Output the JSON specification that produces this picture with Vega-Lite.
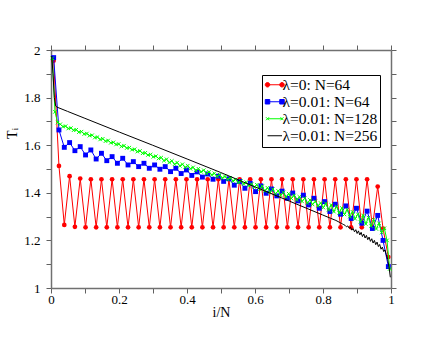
{
"$schema": "https://vega.github.io/schema/vega-lite/v6.json",
"width": 340, "height": 238,
"autosize": "none",
"padding": {"left": 51, "top": 50, "right": 49, "bottom": 52},
"background": "white",
"config": {"view": {"stroke": null}, "font": "Liberation Serif",
  "axis": {"domainColor": "#707070", "domainWidth": 1.5, "tickColor": "#606060", "tickWidth": 1, "ticks": true, "labelFont": "Liberation Serif", "labelFontSize": 13, "labelColor": "#000", "titleFont": "Liberation Serif", "titleFontSize": 14, "titleFontWeight": "normal", "titleColor": "#000", "grid": false, "labelFlush": false, "labelOverlap": false}},
"datasets": {
"red": [{"x":0.0078,"y":1.955},{"x":0.0234,"y":1.513},{"x":0.0391,"y":1.265},{"x":0.0547,"y":1.47},{"x":0.0703,"y":1.257},{"x":0.0859,"y":1.46},{"x":0.1016,"y":1.255},{"x":0.1172,"y":1.457},{"x":0.1328,"y":1.255},{"x":0.1484,"y":1.457},{"x":0.1641,"y":1.255},{"x":0.1797,"y":1.457},{"x":0.1953,"y":1.255},{"x":0.2109,"y":1.457},{"x":0.2266,"y":1.255},{"x":0.2422,"y":1.457},{"x":0.2578,"y":1.255},{"x":0.2734,"y":1.457},{"x":0.2891,"y":1.255},{"x":0.3047,"y":1.457},{"x":0.3203,"y":1.255},{"x":0.3359,"y":1.457},{"x":0.3516,"y":1.255},{"x":0.3672,"y":1.457},{"x":0.3828,"y":1.255},{"x":0.3984,"y":1.457},{"x":0.4141,"y":1.255},{"x":0.4297,"y":1.457},{"x":0.4453,"y":1.255},{"x":0.4609,"y":1.457},{"x":0.4766,"y":1.255},{"x":0.4922,"y":1.457},{"x":0.5078,"y":1.255},{"x":0.5234,"y":1.457},{"x":0.5391,"y":1.255},{"x":0.5547,"y":1.457},{"x":0.5703,"y":1.255},{"x":0.5859,"y":1.457},{"x":0.6016,"y":1.255},{"x":0.6172,"y":1.457},{"x":0.6328,"y":1.255},{"x":0.6484,"y":1.457},{"x":0.6641,"y":1.255},{"x":0.6797,"y":1.457},{"x":0.6953,"y":1.255},{"x":0.7109,"y":1.457},{"x":0.7266,"y":1.255},{"x":0.7422,"y":1.457},{"x":0.7578,"y":1.255},{"x":0.7734,"y":1.457},{"x":0.7891,"y":1.255},{"x":0.8047,"y":1.457},{"x":0.8203,"y":1.255},{"x":0.8359,"y":1.457},{"x":0.8516,"y":1.255},{"x":0.8672,"y":1.457},{"x":0.8828,"y":1.255},{"x":0.8984,"y":1.457},{"x":0.9141,"y":1.255},{"x":0.9297,"y":1.457},{"x":0.9453,"y":1.255},{"x":0.9609,"y":1.426},{"x":0.9766,"y":1.25},{"x":0.9922,"y":1.13}],
"blue": [{"x":0.0078,"y":1.968},{"x":0.0234,"y":1.664},{"x":0.0391,"y":1.591},{"x":0.0547,"y":1.611},{"x":0.0703,"y":1.577},{"x":0.0859,"y":1.594},{"x":0.1016,"y":1.559},{"x":0.1172,"y":1.58},{"x":0.1328,"y":1.542},{"x":0.1484,"y":1.566},{"x":0.1641,"y":1.535},{"x":0.1797,"y":1.552},{"x":0.1953,"y":1.524},{"x":0.2109,"y":1.545},{"x":0.2266,"y":1.517},{"x":0.2422,"y":1.531},{"x":0.2578,"y":1.51},{"x":0.2734,"y":1.524},{"x":0.2891,"y":1.503},{"x":0.3047,"y":1.517},{"x":0.3203,"y":1.499},{"x":0.3359,"y":1.51},{"x":0.3516,"y":1.489},{"x":0.3672,"y":1.503},{"x":0.3828,"y":1.481},{"x":0.3984,"y":1.496},{"x":0.4141,"y":1.473},{"x":0.4297,"y":1.488},{"x":0.4453,"y":1.466},{"x":0.4609,"y":1.479},{"x":0.4766,"y":1.457},{"x":0.4922,"y":1.47},{"x":0.5078,"y":1.448},{"x":0.5234,"y":1.459},{"x":0.5391,"y":1.432},{"x":0.5547,"y":1.448},{"x":0.5703,"y":1.419},{"x":0.5859,"y":1.44},{"x":0.6016,"y":1.405},{"x":0.6172,"y":1.429},{"x":0.6328,"y":1.398},{"x":0.6484,"y":1.416},{"x":0.6641,"y":1.387},{"x":0.6797,"y":1.407},{"x":0.6953,"y":1.377},{"x":0.7109,"y":1.399},{"x":0.7266,"y":1.366},{"x":0.7422,"y":1.39},{"x":0.7578,"y":1.349},{"x":0.7734,"y":1.377},{"x":0.7891,"y":1.335},{"x":0.8047,"y":1.363},{"x":0.8203,"y":1.321},{"x":0.8359,"y":1.352},{"x":0.8516,"y":1.31},{"x":0.8672,"y":1.345},{"x":0.8828,"y":1.292},{"x":0.8984,"y":1.335},{"x":0.9141,"y":1.272},{"x":0.9297,"y":1.323},{"x":0.9453,"y":1.25},{"x":0.9609,"y":1.305},{"x":0.9766,"y":1.2},{"x":0.9922,"y":1.09}],
"green": [{"x":0.0039,"y":1.965},{"x":0.0117,"y":1.74},{"x":0.0195,"y":1.695},{"x":0.0273,"y":1.688},{"x":0.0352,"y":1.678},{"x":0.043,"y":1.68},{"x":0.0508,"y":1.67},{"x":0.0586,"y":1.672},{"x":0.0664,"y":1.663},{"x":0.0742,"y":1.665},{"x":0.082,"y":1.655},{"x":0.0898,"y":1.657},{"x":0.0977,"y":1.647},{"x":0.1055,"y":1.649},{"x":0.1133,"y":1.64},{"x":0.1211,"y":1.642},{"x":0.1289,"y":1.632},{"x":0.1367,"y":1.634},{"x":0.1445,"y":1.624},{"x":0.1523,"y":1.627},{"x":0.1602,"y":1.617},{"x":0.168,"y":1.62},{"x":0.1758,"y":1.61},{"x":0.1836,"y":1.612},{"x":0.1914,"y":1.603},{"x":0.1992,"y":1.605},{"x":0.207,"y":1.595},{"x":0.2148,"y":1.598},{"x":0.2227,"y":1.588},{"x":0.2305,"y":1.59},{"x":0.2383,"y":1.581},{"x":0.2461,"y":1.583},{"x":0.2539,"y":1.573},{"x":0.2617,"y":1.576},{"x":0.2695,"y":1.566},{"x":0.2773,"y":1.568},{"x":0.2852,"y":1.559},{"x":0.293,"y":1.561},{"x":0.3008,"y":1.551},{"x":0.3086,"y":1.554},{"x":0.3164,"y":1.544},{"x":0.3242,"y":1.548},{"x":0.332,"y":1.535},{"x":0.3398,"y":1.541},{"x":0.3477,"y":1.527},{"x":0.3555,"y":1.534},{"x":0.3633,"y":1.52},{"x":0.3711,"y":1.527},{"x":0.3789,"y":1.513},{"x":0.3867,"y":1.52},{"x":0.3945,"y":1.507},{"x":0.4023,"y":1.514},{"x":0.4102,"y":1.501},{"x":0.418,"y":1.507},{"x":0.4258,"y":1.494},{"x":0.4336,"y":1.501},{"x":0.4414,"y":1.488},{"x":0.4492,"y":1.495},{"x":0.457,"y":1.481},{"x":0.4648,"y":1.488},{"x":0.4727,"y":1.475},{"x":0.4805,"y":1.482},{"x":0.4883,"y":1.469},{"x":0.4961,"y":1.476},{"x":0.5039,"y":1.462},{"x":0.5117,"y":1.469},{"x":0.5195,"y":1.456},{"x":0.5273,"y":1.463},{"x":0.5352,"y":1.45},{"x":0.543,"y":1.456},{"x":0.5508,"y":1.443},{"x":0.5586,"y":1.45},{"x":0.5664,"y":1.437},{"x":0.5742,"y":1.444},{"x":0.582,"y":1.43},{"x":0.5898,"y":1.437},{"x":0.5977,"y":1.424},{"x":0.6055,"y":1.434},{"x":0.6133,"y":1.415},{"x":0.6211,"y":1.428},{"x":0.6289,"y":1.408},{"x":0.6367,"y":1.421},{"x":0.6445,"y":1.402},{"x":0.6523,"y":1.415},{"x":0.6602,"y":1.396},{"x":0.668,"y":1.408},{"x":0.6758,"y":1.389},{"x":0.6836,"y":1.402},{"x":0.6914,"y":1.383},{"x":0.6992,"y":1.396},{"x":0.707,"y":1.376},{"x":0.7148,"y":1.389},{"x":0.7227,"y":1.37},{"x":0.7305,"y":1.383},{"x":0.7383,"y":1.364},{"x":0.7461,"y":1.377},{"x":0.7539,"y":1.357},{"x":0.7617,"y":1.37},{"x":0.7695,"y":1.351},{"x":0.7773,"y":1.364},{"x":0.7852,"y":1.345},{"x":0.793,"y":1.357},{"x":0.8008,"y":1.338},{"x":0.8086,"y":1.355},{"x":0.8164,"y":1.328},{"x":0.8242,"y":1.349},{"x":0.832,"y":1.321},{"x":0.8398,"y":1.342},{"x":0.8477,"y":1.315},{"x":0.8555,"y":1.336},{"x":0.8633,"y":1.309},{"x":0.8711,"y":1.329},{"x":0.8789,"y":1.3},{"x":0.8867,"y":1.32},{"x":0.8945,"y":1.291},{"x":0.9023,"y":1.31},{"x":0.9102,"y":1.278},{"x":0.918,"y":1.305},{"x":0.9258,"y":1.269},{"x":0.9336,"y":1.296},{"x":0.9414,"y":1.26},{"x":0.9492,"y":1.287},{"x":0.957,"y":1.248},{"x":0.9648,"y":1.272},{"x":0.9727,"y":1.233},{"x":0.9805,"y":1.251},{"x":0.9883,"y":1.2},{"x":0.9961,"y":1.08}],
"black": [{"x":0.002,"y":1.975},{"x":0.0059,"y":1.9},{"x":0.0098,"y":1.8},{"x":0.0137,"y":1.765},{"x":0.0176,"y":1.76},{"x":0.0488,"y":1.742},{"x":0.0996,"y":1.713},{"x":0.2012,"y":1.655},{"x":0.2988,"y":1.6},{"x":0.4004,"y":1.542},{"x":0.498,"y":1.486},{"x":0.5996,"y":1.425},{"x":0.7012,"y":1.365},{"x":0.7988,"y":1.307},{"x":0.8223,"y":1.293},{"x":0.8379,"y":1.284},{"x":0.8535,"y":1.272},{"x":0.8574,"y":1.269},{"x":0.8613,"y":1.266},{"x":0.8652,"y":1.263},{"x":0.8691,"y":1.257},{"x":0.873,"y":1.261},{"x":0.877,"y":1.251},{"x":0.8809,"y":1.256},{"x":0.8848,"y":1.243},{"x":0.8887,"y":1.25},{"x":0.8926,"y":1.236},{"x":0.8965,"y":1.245},{"x":0.9004,"y":1.229},{"x":0.9043,"y":1.24},{"x":0.9082,"y":1.223},{"x":0.9121,"y":1.234},{"x":0.916,"y":1.216},{"x":0.9199,"y":1.227},{"x":0.9238,"y":1.21},{"x":0.9277,"y":1.221},{"x":0.9316,"y":1.203},{"x":0.9355,"y":1.214},{"x":0.9395,"y":1.196},{"x":0.9434,"y":1.207},{"x":0.9473,"y":1.189},{"x":0.9512,"y":1.2},{"x":0.9551,"y":1.182},{"x":0.959,"y":1.193},{"x":0.9629,"y":1.174},{"x":0.9668,"y":1.183},{"x":0.9707,"y":1.163},{"x":0.9746,"y":1.172},{"x":0.9785,"y":1.153},{"x":0.9824,"y":1.16},{"x":0.9863,"y":1.14},{"x":0.9902,"y":1.12},{"x":0.9941,"y":1.09},{"x":0.998,"y":1.045}]
},
"encoding": {
  "x": {"field": "x", "type": "quantitative", "scale": {"domain": [0, 1], "nice": false, "zero": false}, "axis": null},
  "y": {"field": "y", "type": "quantitative", "scale": {"domain": [1, 2], "nice": false, "zero": false}, "axis": null}
},
"layer": [
  {"data": {"name": "red"}, "mark": {"type": "line", "strokeWidth": 1},
   "encoding": {
     "x": {"field": "x", "type": "quantitative", "scale": {"domain": [0, 1], "nice": false, "zero": false},
       "axis": {"orient": "bottom", "title": "i/N", "values": [0,0.1,0.2,0.3,0.4,0.5,0.6,0.7,0.8,0.9,1], "tickSize": 5, "labelPadding": 0,
         "labelExpr": "round(datum.value*10)%2==0 ? format(datum.value, '~g') : ''", "titleY": 24, "titleBaseline": "middle",
         "encode": {"ticks": {"update": {"y2": {"signal": "round(datum.value*10)%2==0 ? -5 : -3"}}}}}},
     "y": {"field": "y", "type": "quantitative", "scale": {"domain": [1, 2], "nice": false, "zero": false},
       "axis": {"orient": "left", "title": "Tᵢ", "values": [1,1.1,1.2,1.3,1.4,1.5,1.6,1.7,1.8,1.9,2], "tickSize": 5, "labelPadding": 6,
         "labelExpr": "round(datum.value*10)%2==0 ? format(datum.value, '~g') : ''", "titleY": 83, "titlePadding": 4,
         "encode": {"ticks": {"update": {"x2": {"signal": "round(datum.value*10)%2==0 ? 5 : 3"}}}}}},
     "color": {"datum": "λ=0: N=64",
       "scale": {"domain": ["λ=0: N=64", "λ=0.01: N=64", "λ=0.01: N=128", "λ=0.01: N=256"], "range": ["#ff0000", "#0000ff", "#00ff00", "#000000"]},
       "legend": {"orient": "none", "legendX": 211, "legendY": 25, "title": null, "strokeColor": "#000", "padding": 2,
         "labelFont": "Liberation Serif", "labelFontSize": 15.5, "labelColor": "#000", "symbolSize": 100, "symbolStrokeWidth": 1,
         "symbolOffset": 3, "labelOffset": 0, "rowPadding": -1.5,
         "encode": {"symbols": {"update": {
           "shape": {"signal": "datum.value=='λ=0: N=64' ? 'M-1.45,0H1.45M-1.45,-0.45A0.45,0.45 0 1,0 -1.45,0.45A0.45,0.45 0 1,0 -1.45,-0.45ZM1.45,-0.45A0.45,0.45 0 1,0 1.45,0.45A0.45,0.45 0 1,0 1.45,-0.45Z' : datum.value=='λ=0.01: N=64' ? 'M-1.45,0H1.45M-1.9,-0.45H-1V0.45H-1.9ZM1,-0.45H1.9V0.45H1Z' : datum.value=='λ=0.01: N=128' ? 'M-1.45,0H1.45M-1.75,-0.3L-1.15,0.3M-1.75,0.3L-1.15,-0.3M1.15,-0.3L1.75,0.3M1.15,0.3L1.75,-0.3' : 'M-1.45,0H1.45'"},
           "fill": {"signal": "datum.value=='λ=0: N=64' ? '#ff0000' : datum.value=='λ=0.01: N=64' ? '#0000ff' : 'transparent'"},
           "stroke": {"signal": "datum.value=='λ=0: N=64' ? '#ff0000' : datum.value=='λ=0.01: N=64' ? '#0000ff' : datum.value=='λ=0.01: N=128' ? '#00ff00' : '#000000'"},
           "opacity": {"value": 1}
         }}}}}
   }},
  {"data": {"name": "red"}, "mark": {"type": "circle", "size": 22, "color": "#ff0000", "opacity": 1},
   "encoding": {
     "x": {"field": "x", "type": "quantitative", "scale": {"domain": [0, 1], "nice": false, "zero": false},
       "axis": {"orient": "top", "title": null, "labels": false, "values": [0,0.1,0.2,0.3,0.4,0.5,0.6,0.7,0.8,0.9,1], "tickSize": 5,
         "encode": {"ticks": {"update": {"y2": {"signal": "round(datum.value*10)%2==0 ? 5 : 3"}}}}}},
     "y": {"field": "y", "type": "quantitative", "scale": {"domain": [1, 2], "nice": false, "zero": false},
       "axis": {"orient": "right", "title": null, "labels": false, "values": [1,1.1,1.2,1.3,1.4,1.5,1.6,1.7,1.8,1.9,2], "tickSize": 5,
         "encode": {"ticks": {"update": {"x2": {"signal": "round(datum.value*10)%2==0 ? -5 : -3"}}}}}}
   }},
  {"data": {"name": "blue"}, "mark": {"type": "line", "strokeWidth": 1},
   "encoding": {"color": {"datum": "λ=0.01: N=64"}}},
  {"data": {"name": "blue"}, "mark": {"type": "square", "size": 24, "color": "#0000ff", "opacity": 1}},
  {"data": {"name": "green"}, "mark": {"type": "line", "strokeWidth": 1},
   "encoding": {"color": {"datum": "λ=0.01: N=128"}}},
  {"data": {"name": "green"}, "mark": {"type": "point", "shape": "M-1,-1L1,1M-1,1L1,-1", "size": 12, "filled": false, "strokeWidth": 1, "color": "#00ff00", "opacity": 1}},
  {"data": {"name": "black"}, "mark": {"type": "line", "strokeWidth": 1},
   "encoding": {"color": {"datum": "λ=0.01: N=256"}}}
],
"resolve": {"axis": {"x": "independent", "y": "independent"}}
}
